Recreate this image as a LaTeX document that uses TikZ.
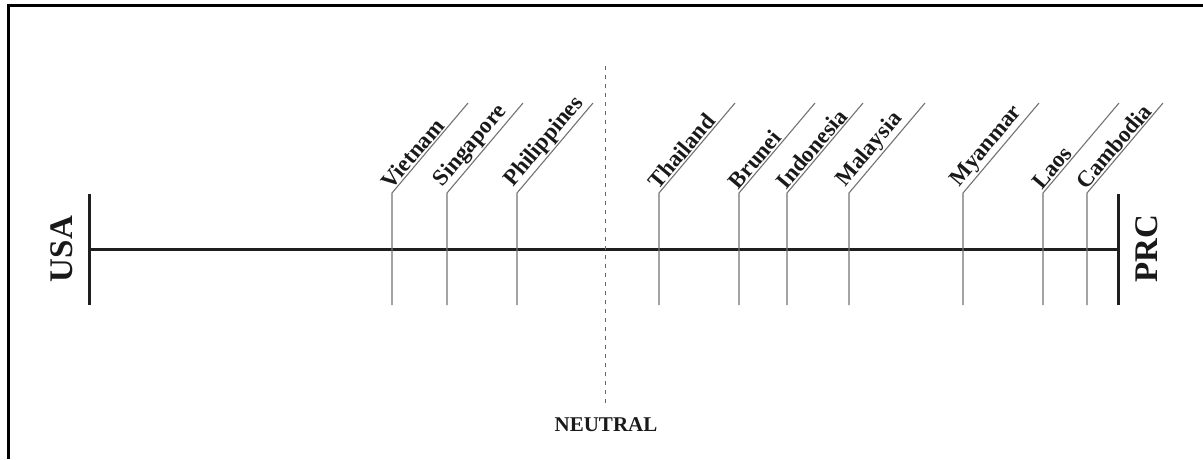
\documentclass[tikz,border=0pt]{standalone}
\usepackage{fontspec}
\setmainfont{Liberation Serif}
\begin{document}
\begin{tikzpicture}[x=1pt,y=-1pt,
  axisline/.style={line width=3pt,draw=black!88},
  leg/.style={line width=1.1pt,draw=black!55},
  country/.style={font=\fontsize{23}{23}\selectfont\bfseries,text=black!90,inner sep=1.5pt},
  side/.style={font=\fontsize{33}{33}\selectfont\bfseries,text=black!90,rotate=90},
  neutral/.style={draw=black!60,line width=1pt,dash pattern=on 4pt off 5pt}]
\useasboundingbox (0,0) rectangle (1203,459);
% frame edges
\draw[line width=3pt] (8,459) -- (8,5.5) -- (1203,5.5);

% end bars and the spectrum line
\coordinate (usaTop) at (89,194);
\coordinate (usaBot) at (89,305);
\coordinate (prcTop) at (1118,194);
\coordinate (prcBot) at (1118,305);
\coordinate (usaMid) at (89,249);
\coordinate (prcMid) at (1118,249);
\draw[axisline] (usaTop) -- (usaBot);
\draw[axisline] (prcTop) -- (prcBot);
\draw[axisline] (usaMid) -- (prcMid);
\node[side] (usa) at (62,249) {USA};
\node[side] (prc) at (1147,249) {PRC};

% neutral point
\coordinate (nTop) at (605,66);
\coordinate (nBot) at (605,404);
\draw[neutral] (nTop) -- (nBot);
\node[font=\fontsize{21}{21}\selectfont\bfseries,text=black!90] (neutral) at (606,425) {NEUTRAL};

% countries: leg rises from below the line, bends, and carries its label
\foreach \name/\xx [count=\i] in {Vietnam/392,Singapore/447,Philippines/517,Thailand/659,Brunei/739,Indonesia/787,Malaysia/849,Myanmar/963,Laos/1043,Cambodia/1087}{
  \coordinate (bot\i) at (\xx,305);
  \coordinate (bend\i) at (\xx,193);
  \coordinate (top\i) at (\xx+76,103);
  \draw[leg] (bot\i) -- (bend\i) -- (top\i);
  \path (bend\i) -- (top\i) node[pos=0,sloped,anchor=south west,country] (lab\i) {\name};
}
\end{tikzpicture}
\end{document}
